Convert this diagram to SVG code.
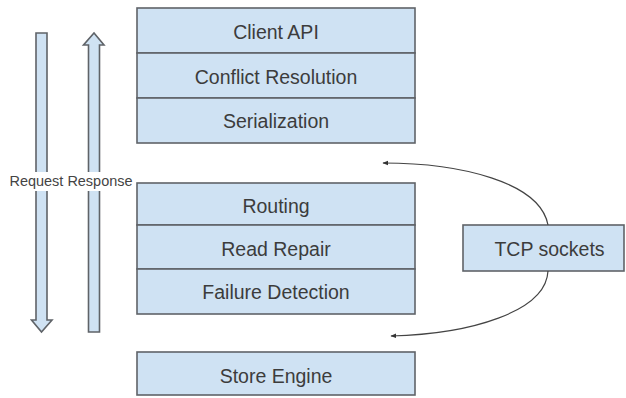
<svg xmlns="http://www.w3.org/2000/svg" width="626" height="398" viewBox="0 0 626 398">
<defs>
<style>
.box{fill:#cfe2f3;stroke:#5f6368;stroke-width:1.6}
.lbl{font-family:"Liberation Sans",Arial,sans-serif;font-size:19.5px;fill:#3c3c3c;text-anchor:middle}
.small{font-family:"Liberation Sans",Arial,sans-serif;font-size:14px;fill:#444;text-anchor:middle}
.conn{fill:none;stroke:#444;stroke-width:1.2}
</style>
<marker id="ah" viewBox="0 0 10 10" refX="9" refY="5" markerWidth="6" markerHeight="6" orient="auto-start-reverse" markerUnits="userSpaceOnUse">
<path d="M0,1 L10,5 L0,9 z" fill="#333"/>
</marker>
</defs>
<rect width="626" height="398" fill="#fff"/>

<g id="request-arrow">
<path class="box" d="M36,33 H47 V320 H52 L41.5,332 L31.5,320 H36 Z"/>
</g>
<g id="response-arrow">
<path class="box" d="M88.5,332 H99.5 V45 H104 L94,33 L83.5,45 H88.5 Z"/>
</g>
<g id="request-response-label">
<rect x="8" y="172" width="128" height="19" fill="#fff"/>
<text class="small" x="71" y="186" textLength="123" lengthAdjust="spacingAndGlyphs">Request Response</text>
</g>

<g id="client-api">
<rect class="box" x="137" y="8" width="278" height="45"/>
<text class="lbl" x="276" y="39">Client API</text>
</g>
<g id="conflict-resolution">
<rect class="box" x="137" y="53" width="278" height="45"/>
<text class="lbl" x="276" y="84">Conflict Resolution</text>
</g>
<g id="serialization">
<rect class="box" x="137" y="98" width="278" height="45"/>
<text class="lbl" x="276" y="128">Serialization</text>
</g>

<g id="routing">
<rect class="box" x="137" y="183" width="278" height="42"/>
<text class="lbl" x="276" y="213">Routing</text>
</g>
<g id="read-repair">
<rect class="box" x="137" y="225" width="278" height="44"/>
<text class="lbl" x="276" y="256">Read Repair</text>
</g>
<g id="failure-detection">
<rect class="box" x="137" y="269" width="278" height="45"/>
<text class="lbl" x="276" y="299">Failure Detection</text>
</g>

<g id="store-engine">
<rect class="box" x="137" y="352" width="278" height="43"/>
<text class="lbl" x="276" y="383">Store Engine</text>
</g>

<g id="tcp-sockets">
<rect class="box" x="463" y="225" width="161" height="46"/>
<text class="lbl" x="549.5" y="256">TCP sockets</text>
</g>

<g id="connectors">
<path class="conn" d="M548,225 C540,182 460,163 383,163" marker-end="url(#ah)"/>
<path class="conn" d="M548,271 C546,312 470,334 391,336" marker-end="url(#ah)"/>
</g>
</svg>
